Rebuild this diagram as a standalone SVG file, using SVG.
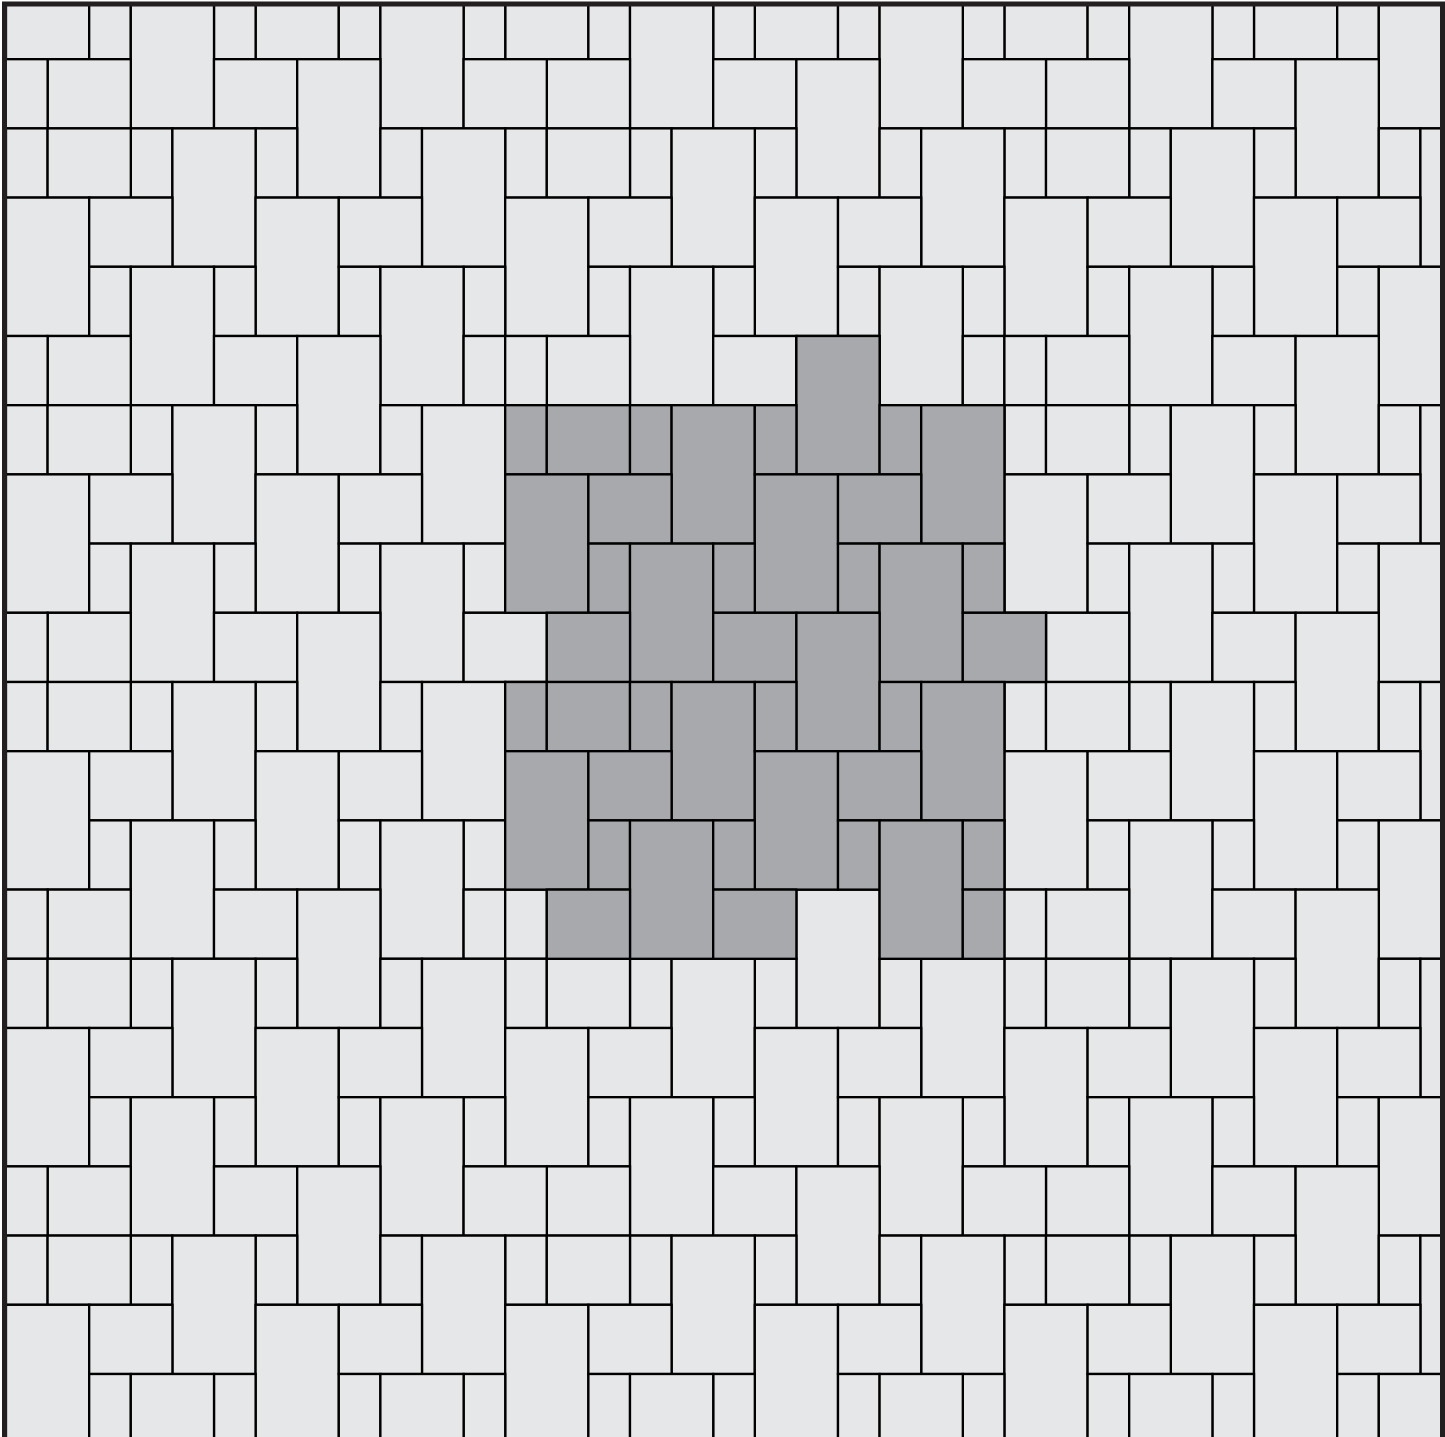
<svg xmlns="http://www.w3.org/2000/svg" width="1445" height="1437" viewBox="0 0 1445 1437">
<style>
.t{fill:#E6E7E8;stroke:#000;stroke-width:2.3}
.g{fill:#A7A9AC;stroke:#000;stroke-width:2.3}
.frame{fill:none;stroke:#231F20;stroke-width:5}
</style>
<defs>
<clipPath id="clip"><rect x="4.5" y="4" width="1438" height="1440"/></clipPath>
<g id="rowP">
<rect x="89.2" width="41.6" height="69.2"/><rect x="214" width="41.6" height="69.2"/><rect x="338.8" width="41.6" height="69.2"/><rect x="463.6" width="41.6" height="69.2"/><rect x="588.4" width="41.6" height="69.2"/><rect x="713.2" width="41.6" height="69.2"/><rect x="838" width="41.6" height="69.2"/><rect x="962.8" width="41.6" height="69.2"/><rect x="1087.6" width="41.6" height="69.2"/><rect x="1212.4" width="41.6" height="69.2"/><rect x="1337.2" width="41.6" height="69.2"/>
<rect x="130.8" width="83.2" height="138.4"/><rect x="380.4" width="83.2" height="138.4"/><rect x="630" width="83.2" height="138.4"/><rect x="879.6" width="83.2" height="138.4"/><rect x="1129.2" width="83.2" height="138.4"/><rect x="1378.8" width="83.2" height="138.4"/>
</g>
<g id="rowQ">
<rect x="47.6" width="83.2" height="69.2"/><rect x="214" width="83.2" height="69.2"/><rect x="546.8" width="83.2" height="69.2"/><rect x="713.2" width="83.2" height="69.2"/><rect x="1046" width="83.2" height="69.2"/><rect x="1212.4" width="83.2" height="69.2"/>
<rect x="297.2" width="83.2" height="138.4"/><rect x="796.4" width="83.2" height="138.4"/><rect x="1295.6" width="83.2" height="138.4"/>
</g>
<g id="rowQ1">
<use href="#rowQ"/>
<rect x="-35.6" width="83.2" height="69.2"/><rect x="463.6" width="83.2" height="69.2"/><rect x="962.8" width="83.2" height="69.2"/>
</g>
<g id="rowQ5">
<use href="#rowQ"/>
<rect x="6" width="41.6" height="69.2"/><rect x="463.6" width="41.6" height="69.2"/><rect x="505.2" width="41.6" height="69.2"/><rect x="962.8" width="41.6" height="69.2"/><rect x="1004.4" width="41.6" height="69.2"/>
</g>
<g id="rowR">
<rect x="6" width="41.6" height="69.2"/><rect x="130.8" width="41.6" height="69.2"/><rect x="255.6" width="41.6" height="69.2"/><rect x="380.4" width="41.6" height="69.2"/><rect x="505.2" width="41.6" height="69.2"/><rect x="630" width="41.6" height="69.2"/><rect x="754.8" width="41.6" height="69.2"/><rect x="879.6" width="41.6" height="69.2"/><rect x="1004.4" width="41.6" height="69.2"/><rect x="1129.2" width="41.6" height="69.2"/><rect x="1254" width="41.6" height="69.2"/><rect x="1378.8" width="41.6" height="69.2"/>
<rect x="47.6" width="83.2" height="69.2"/><rect x="546.8" width="83.2" height="69.2"/><rect x="1046" width="83.2" height="69.2"/>
<rect x="172.4" width="83.2" height="138.4"/><rect x="422" width="83.2" height="138.4"/><rect x="671.6" width="83.2" height="138.4"/><rect x="921.2" width="83.2" height="138.4"/><rect x="1170.8" width="83.2" height="138.4"/><rect x="1420.4" width="83.2" height="138.4"/>
</g>
<g id="rowT">
<rect x="6" width="83.2" height="138.4"/><rect x="255.6" width="83.2" height="138.4"/><rect x="505.2" width="83.2" height="138.4"/><rect x="754.8" width="83.2" height="138.4"/><rect x="1004.4" width="83.2" height="138.4"/><rect x="1254" width="83.2" height="138.4"/>
<rect x="89.2" width="83.2" height="69.2"/><rect x="338.8" width="83.2" height="69.2"/><rect x="588.4" width="83.2" height="69.2"/><rect x="838" width="83.2" height="69.2"/><rect x="1087.6" width="83.2" height="69.2"/><rect x="1337.2" width="83.2" height="69.2"/>
</g>
</defs>
<rect x="0" y="0" width="1445" height="1437" fill="#FFFFFF"/>
<g id="paving" clip-path="url(#clip)">
<g id="tiles" class="t">
<use href="#rowT" y="-79.2"/>
<use href="#rowP" y="-10"/>
<use href="#rowQ1" y="59.2"/>
<use href="#rowR" y="128.4"/>
<use href="#rowT" y="197.6"/>
<use href="#rowP" y="266.8"/>
<use href="#rowQ5" y="336"/>
<use href="#rowR" y="405.2"/>
<use href="#rowT" y="474.4"/>
<use href="#rowP" y="543.6"/>
<use href="#rowQ1" y="612.8"/>
<use href="#rowR" y="682"/>
<use href="#rowT" y="751.2"/>
<use href="#rowP" y="820.4"/>
<use href="#rowQ5" y="889.6"/>
<use href="#rowR" y="958.8"/>
<use href="#rowT" y="1028"/>
<use href="#rowP" y="1097.2"/>
<use href="#rowQ1" y="1166.4"/>
<use href="#rowR" y="1235.6"/>
<use href="#rowT" y="1304.8"/>
<use href="#rowP" y="1374"/>
</g>
<g id="highlight" class="g">
<rect x="796.4" y="336" width="83.2" height="138.4"/>
<rect x="505.2" y="405.2" width="41.6" height="69.2"/><rect x="546.8" y="405.2" width="83.2" height="69.2"/><rect x="630" y="405.2" width="41.6" height="69.2"/><rect x="671.6" y="405.2" width="83.2" height="138.4"/><rect x="754.8" y="405.2" width="41.6" height="69.2"/><rect x="879.6" y="405.2" width="41.6" height="69.2"/><rect x="921.2" y="405.2" width="83.2" height="138.4"/>
<rect x="505.2" y="474.4" width="83.2" height="138.4"/><rect x="588.4" y="474.4" width="83.2" height="69.2"/><rect x="754.8" y="474.4" width="83.2" height="138.4"/><rect x="838" y="474.4" width="83.2" height="69.2"/>
<rect x="588.4" y="543.6" width="41.6" height="69.2"/><rect x="630" y="543.6" width="83.2" height="138.4"/><rect x="713.2" y="543.6" width="41.6" height="69.2"/><rect x="838" y="543.6" width="41.6" height="69.2"/><rect x="879.6" y="543.6" width="83.2" height="138.4"/><rect x="962.8" y="543.6" width="41.6" height="69.2"/>
<rect x="546.8" y="612.8" width="83.2" height="69.2"/><rect x="713.2" y="612.8" width="83.2" height="69.2"/><rect x="796.4" y="612.8" width="83.2" height="138.4"/><rect x="962.8" y="612.8" width="83.2" height="69.2"/>
<rect x="505.2" y="682" width="41.6" height="69.2"/><rect x="546.8" y="682" width="83.2" height="69.2"/><rect x="630" y="682" width="41.6" height="69.2"/><rect x="671.6" y="682" width="83.2" height="138.4"/><rect x="754.8" y="682" width="41.6" height="69.2"/><rect x="879.6" y="682" width="41.6" height="69.2"/><rect x="921.2" y="682" width="83.2" height="138.4"/>
<rect x="505.2" y="751.2" width="83.2" height="138.4"/><rect x="588.4" y="751.2" width="83.2" height="69.2"/><rect x="754.8" y="751.2" width="83.2" height="138.4"/><rect x="838" y="751.2" width="83.2" height="69.2"/>
<rect x="588.4" y="820.4" width="41.6" height="69.2"/><rect x="630" y="820.4" width="83.2" height="138.4"/><rect x="713.2" y="820.4" width="41.6" height="69.2"/><rect x="838" y="820.4" width="41.6" height="69.2"/><rect x="879.6" y="820.4" width="83.2" height="138.4"/><rect x="962.8" y="820.4" width="41.6" height="69.2"/>
<rect x="546.8" y="889.6" width="83.2" height="69.2"/><rect x="713.2" y="889.6" width="83.2" height="69.2"/><rect x="962.8" y="889.6" width="41.6" height="69.2"/>
</g>
</g>
<rect class="frame" x="4.5" y="4" width="1438" height="1450"/>
</svg>
